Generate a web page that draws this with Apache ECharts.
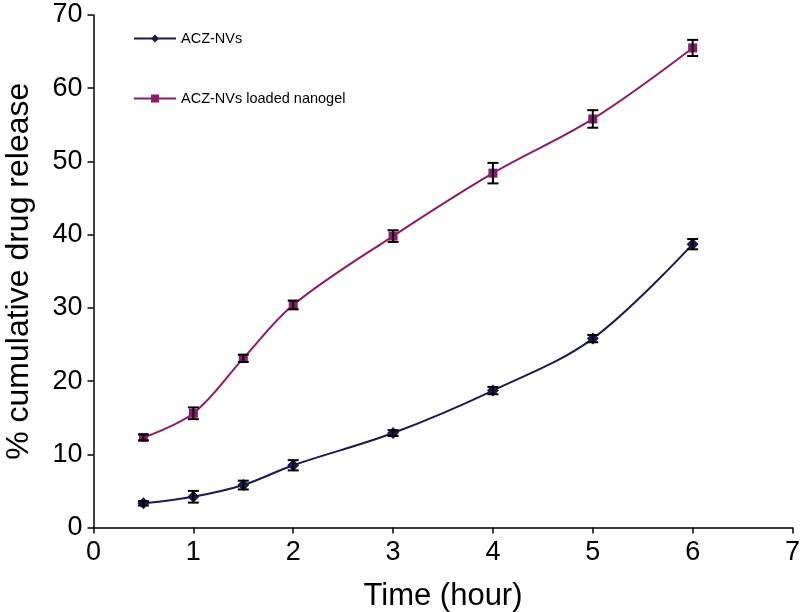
<!DOCTYPE html>
<html>
<head>
<meta charset="utf-8">
<script src="https://cdn.jsdelivr.net/npm/echarts@6/dist/echarts.min.js"></script>
<style>
html,body{margin:0;padding:0;background:#fff;}
#chart{width:803px;height:612px;}
</style>
</head>
<body>
<div id="chart"></div>
<script>
var timeHours = [0.5, 1, 1.5, 2, 3, 4, 5, 6];
var nvsValues = [3.3, 4.2, 5.8, 8.5, 12.9, 18.7, 25.8, 38.7];
var nvsErrors = [0.3, 0.8, 0.6, 0.7, 0.4, 0.5, 0.5, 0.7];
var gelValues = [12.3, 15.6, 23.1, 30.4, 39.8, 48.4, 55.8, 65.5];
var gelErrors = [0.4, 0.8, 0.5, 0.6, 0.8, 1.4, 1.2, 1.1];
var seriesNames = ['ACZ-NVs', 'ACZ-NVs loaded nanogel'];
var xTicks = [0, 1, 2, 3, 4, 5, 6, 7];
var yTicks = [0, 10, 20, 30, 40, 50, 60, 70];

var navy = '#1b1b4f';
var purple = '#8a1d6a';
var font = 'Liberation Sans, Arial, sans-serif';

function pairs(xs, ys) { return xs.map(function (x, i) { return [x, ys[i]]; }); }
function errData(xs, ys, es) { return xs.map(function (x, i) { return [x, ys[i] - es[i], ys[i] + es[i]]; }); }

function errRender(params, api) {
  var x = api.value(0);
  var lo = api.coord([x, api.value(1)]);
  var hi = api.coord([x, api.value(2)]);
  var hw = 5.5;
  var st = { stroke: '#000', lineWidth: 2 };
  return {
    type: 'group',
    children: [
      { type: 'line', shape: { x1: lo[0], y1: lo[1], x2: hi[0], y2: hi[1] }, style: st },
      { type: 'line', shape: { x1: lo[0] - hw, y1: lo[1], x2: lo[0] + hw, y2: lo[1] }, style: st },
      { type: 'line', shape: { x1: hi[0] - hw, y1: hi[1], x2: hi[0] + hw, y2: hi[1] }, style: st }
    ]
  };
}

var chart = echarts.init(document.getElementById('chart'), null, { renderer: 'canvas' });
chart.setOption({
  animation: false,
  backgroundColor: '#fff',
  textStyle: { fontFamily: font },
  grid: { left: 93.5, right: 10.5, top: 15, bottom: 84.5, containLabel: false, outerBoundsMode: 'none' },
  legend: {
    orient: 'vertical',
    left: 128,
    top: 26,
    itemGap: 45,
    itemWidth: 42,
    itemHeight: 10,
    data: [
      { name: seriesNames[0] },
      { name: seriesNames[1] }
    ],
    textStyle: { fontSize: 14.5, color: '#000', fontFamily: font }
  },
  xAxis: {
    type: 'value',
    min: 0, max: 7, interval: 1,
    name: 'Time (hour)',
    nameLocation: 'middle',
    nameGap: 53,
    nameTextStyle: { fontSize: 31, color: '#000', fontFamily: font },
    axisLine: { show: true, onZero: false, lineStyle: { color: '#000', width: 1.5 } },
    axisTick: { show: true, inside: false, length: 6, lineStyle: { color: '#000', width: 1.5 } },
    axisLabel: { fontSize: 27, color: '#000', margin: 12, formatter: function (v) { return xTicks.indexOf(v) >= 0 ? String(v) : ''; } },
    splitLine: { show: false }
  },
  yAxis: {
    type: 'value',
    min: 0, max: 70, interval: 10,
    name: '% cumulative drug release',
    nameLocation: 'middle',
    nameGap: 58,
    nameTextStyle: { fontSize: 32, color: '#000', fontFamily: font },
    axisLine: { show: true, onZero: false, lineStyle: { color: '#000', width: 1.5 } },
    axisTick: { show: true, inside: false, length: 6, lineStyle: { color: '#000', width: 1.5 } },
    axisLabel: { fontSize: 27, color: '#000', margin: 11, formatter: function (v) { return yTicks.indexOf(v) >= 0 ? String(v) : ''; } },
    splitLine: { show: false }
  },
  series: [
    {
      name: seriesNames[0],
      type: 'line',
      data: pairs(timeHours, nvsValues),
      smooth: 0.35,
      symbol: 'diamond',
      symbolSize: 12,
      itemStyle: { color: navy },
      lineStyle: { color: navy, width: 2 },
      z: 3
    },
    {
      name: seriesNames[1],
      type: 'line',
      data: pairs(timeHours, gelValues),
      smooth: 0.35,
      symbol: 'rect',
      symbolSize: 9,
      itemStyle: { color: purple },
      lineStyle: { color: purple, width: 2 },
      z: 3
    },
    {
      type: 'custom',
      renderItem: errRender,
      data: errData(timeHours, nvsValues, nvsErrors),
      z: 4,
      silent: true
    },
    {
      type: 'custom',
      renderItem: errRender,
      data: errData(timeHours, gelValues, gelErrors),
      z: 4,
      silent: true
    }
  ]
});
</script>
</body>
</html>
